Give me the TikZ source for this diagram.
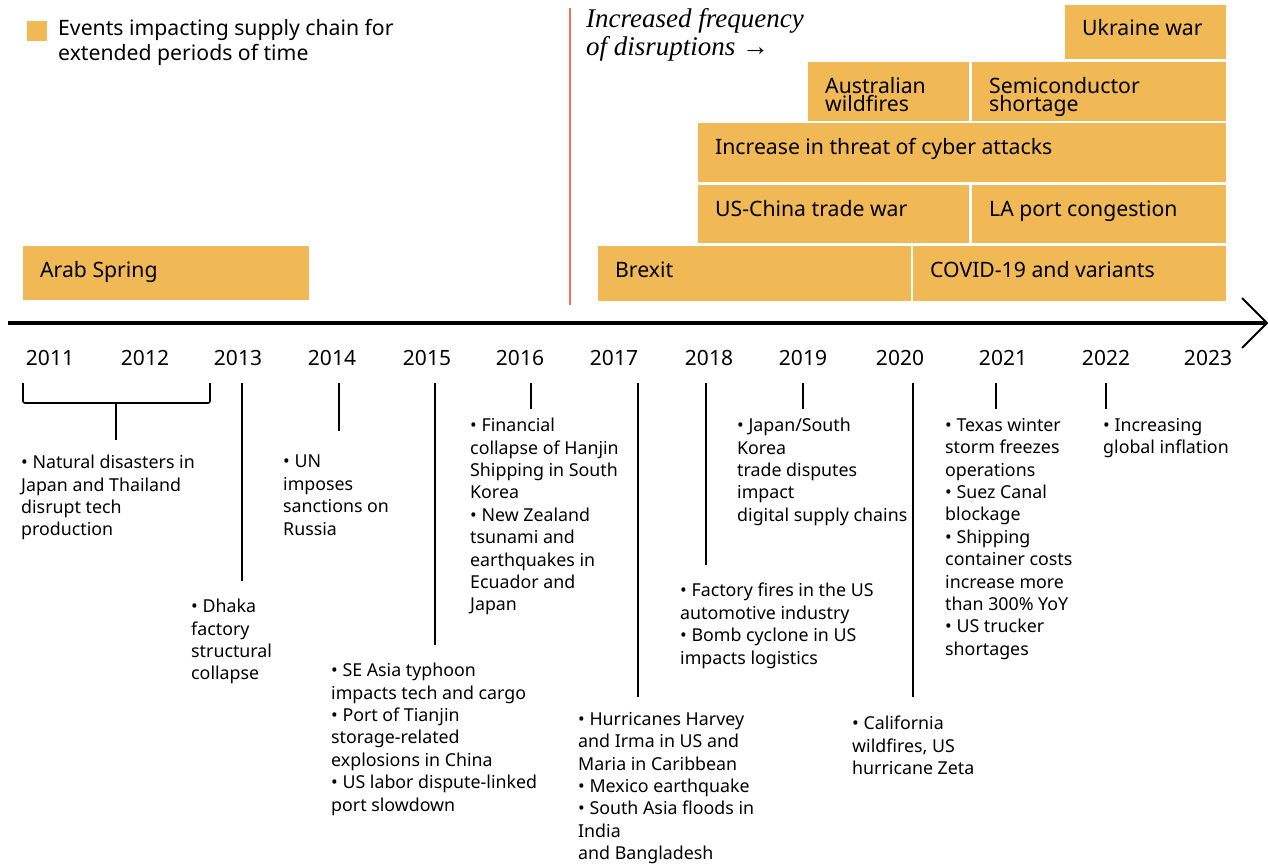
\documentclass[tikz,border=0pt]{standalone}
\usepackage{fontspec}
\setmainfont{Noto Sans}
\newfontfamily\titlefont{Liberation Serif}
\definecolor{barfill}{HTML}{F0B955}
\definecolor{divider}{HTML}{EA7358}

\begin{document}
\begin{tikzpicture}[x=1pt,y=-1pt,
  bar/.style={fill=barfill, draw=none, anchor=north west, inner sep=0pt},
  barlabel/.style={anchor=base west, inner sep=0pt, text=black,
    font=\fontsize{21.2}{18}\selectfont},
  note/.style={anchor=north west, inner sep=0pt, align=left,
    font=\fontsize{17.8}{22.4}\selectfont},
  year/.style={inner sep=0pt, font=\fontsize{21}{21}\selectfont},
  tick/.style={line width=1.6pt},
]
\useasboundingbox (0,0) rectangle (1268,867);

% legend
\node[fill=barfill, minimum size=20pt, inner sep=0pt, anchor=north west] (legendkey) at (27,21) {};
\node[anchor=north west, inner sep=0pt, align=left,
  font=\fontsize{21.2}{25}\selectfont] (legendtext) at (58,19)
  {Events impacting supply chain for\\extended periods of time};

% divider and caption
\coordinate (divtop) at (570,8);
\coordinate (divbot) at (570,305);
\draw[divider, line width=2pt] (divtop) -- (divbot);
\node[anchor=north west, inner sep=0pt, align=left,
  font=\titlefont\itshape\fontsize{27}{28}\selectfont] (caption) at (586,8)
  {Increased frequency\\of disruptions →};

% long-running events: box, then label at a fixed inset from its top left
\newcommand{\eventbar}[6]{% name, x, y, width, height, label
  \node[bar, minimum width=#4pt, minimum height=#5pt] (#1) at (#2,#3) {};
  \node[barlabel] (#1-label) at ([xshift=17pt,yshift=-31pt]#1.north west)
    {\parbox[t]{#4pt}{\raggedright #6}};
}
\eventbar{arab}{23}{246}{286}{54}{Arab Spring}
\eventbar{ukraine}{1065}{5}{161}{54}{Ukraine war}
\eventbar{ausfire}{808}{62}{161}{59}{Australian\\wildfires}
\eventbar{semi}{972}{62}{254}{59}{Semiconductor\\shortage}
\eventbar{cyber}{698}{123}{528}{59}{Increase in threat of cyber attacks}
\eventbar{trade}{698}{185}{271}{58}{US-China trade war}
\eventbar{laport}{972}{185}{254}{58}{LA port congestion}
\eventbar{brexit}{598}{246}{313}{55}{Brexit}
\eventbar{covid}{913}{246}{313}{55}{COVID-19 and variants}

% time axis
\coordinate (axstart) at (8,323);
\coordinate (axend) at (1265,323);
\coordinate (tipup) at (1242,298);
\coordinate (tiptop) at (1267,323);
\coordinate (tipdown) at (1242,348);
\draw[line width=3.5pt] (axstart) -- (axend);
\draw[line width=2pt] (tipup) -- (tiptop) -- (tipdown);

% years
\node[year] (y11) at (50,358) {2011};
\node[year] (y12) at (145,358) {2012};
\node[year] (y13) at (238,358) {2013};
\node[year] (y14) at (332,358) {2014};
\node[year] (y15) at (427,358) {2015};
\node[year] (y16) at (520,358) {2016};
\node[year] (y17) at (614,358) {2017};
\node[year] (y18) at (709,358) {2018};
\node[year] (y19) at (803,358) {2019};
\node[year] (y20) at (900,358) {2020};
\node[year] (y21) at (1003,358) {2021};
\node[year] (y22) at (1106,358) {2022};
\node[year] (y23) at (1208,358) {2023};

% event notes
\node[note] (n11) at (21,455) {• Natural disasters in\\Japan and Thailand\\disrupt tech\\production};
\node[note] (n13) at (191,599) {• Dhaka\\factory\\structural\\collapse};
\node[note] (n14) at (283,455) {• UN\\imposes\\sanctions on\\Russia};
\node[note] (n15) at (331,663) {• SE Asia typhoon\\impacts tech and cargo\\• Port of Tianjin\\storage-related\\explosions in China\\• US labor dispute-linked\\port slowdown};
\node[note] (n16) at (470,418) {• Financial\\collapse of Hanjin\\Shipping in South\\Korea\\• New Zealand\\tsunami and\\earthquakes in\\Ecuador and\\Japan};
\node[note] (n17) at (578,712) {• Hurricanes Harvey\\and Irma in US and\\Maria in Caribbean\\• Mexico earthquake\\• South Asia floods in\\India\\and Bangladesh};
\node[note] (n18) at (680,583) {• Factory fires in the US\\automotive industry\\• Bomb cyclone in US\\impacts logistics};
\node[note] (n19) at (737,418) {• Japan/South\\Korea\\trade disputes\\impact\\digital supply chains};
\node[note] (n20) at (852,716) {• California\\wildfires, US\\hurricane Zeta};
\node[note] (n21) at (945,418) {• Texas winter\\storm freezes\\operations\\• Suez Canal\\blockage\\• Shipping\\container costs\\increase more\\than 300\% YoY\\• US trucker\\shortages};
\node[note] (n22) at (1103,418) {• Increasing\\global inflation};

% leader lines from the axis labels to the notes
\draw[tick, rounded corners=2pt] (23,383) -- (23,403) -- (210,403) -- (210,383);
\coordinate (b11) at (116,403);
\coordinate (e11) at (116,440);
\draw[tick] (b11) -- (e11);
\foreach \nm/\x/\ya/\yb in {13/242/383/581, 14/339/383/431, 15/435/383/645,
    16/531/383/409, 17/638/383/697, 18/706/383/565, 19/803/383/409,
    20/913/383/697, 21/996/383/409, 22/1106/383/409} {
  \coordinate (ta\nm) at (\x,\ya);
  \coordinate (tb\nm) at (\x,\yb);
  \draw[tick] (ta\nm) -- (tb\nm);
}
\end{tikzpicture}
\end{document}
